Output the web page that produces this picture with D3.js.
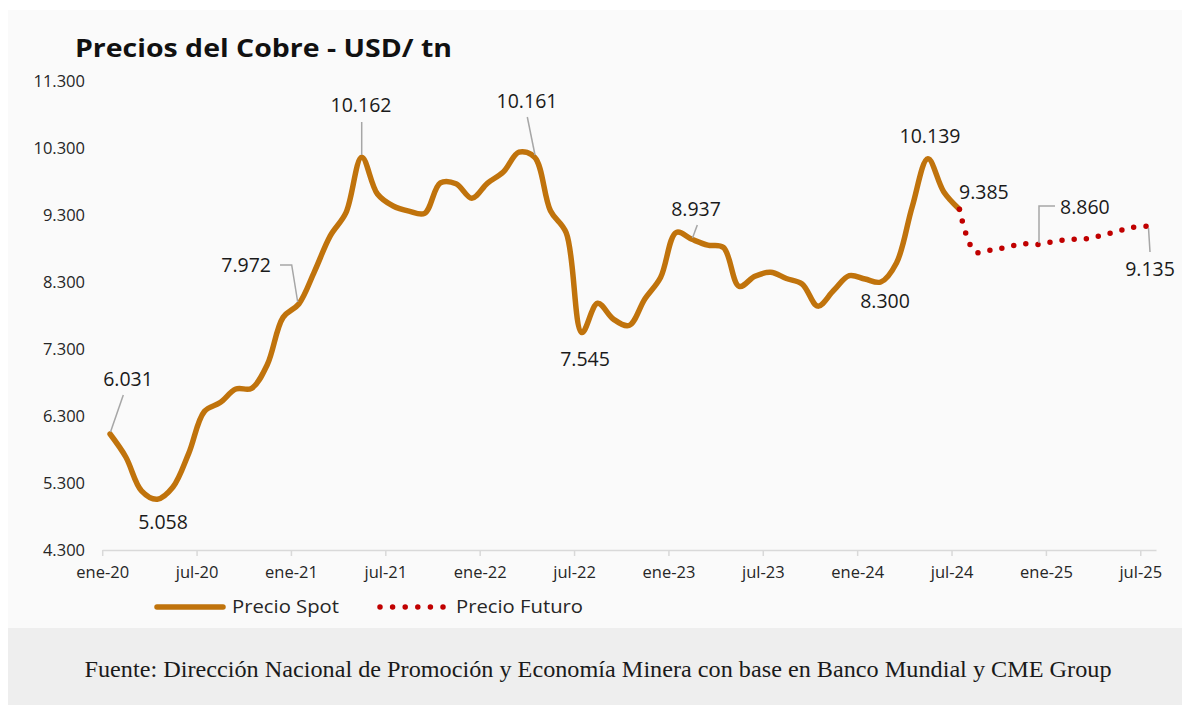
<!DOCTYPE html>
<html><head><meta charset="utf-8">
<script src="https://cdn.jsdelivr.net/npm/d3@7"></script>
<style>
html,body{margin:0;padding:0;background:#ffffff;}
svg{display:block;}
</style></head>
<body>
<svg id="chart" width="1182" height="705"></svg>
<script>
// ---- data ----
const title = "Precios del Cobre - USD/ tn";
const source = "Fuente: Dirección Nacional de Promoción y Economía Minera con base en Banco Mundial y CME Group";
const monthNames = ["ene","feb","mar","abr","may","jun","jul","ago","sep","oct","nov","dic"];
const years = ["20","21","22","23","24","25"];
const tickLabels = ["ene-20","jul-20","ene-21","jul-21","ene-22","jul-22","ene-23","jul-23","ene-24","jul-24","ene-25","jul-25"];
const yTicks = [4300,5300,6300,7300,8300,9300,10300,11300];
// Precio Spot, ene-20 .. jul-24 (USD/tn)
const spotValues = [
  6031,5688,5183,5058,5240,5743,6369,6500,6702,6713,7069,7772,
  7972,8460,8989,9335,10162,9613,9434,9358,9325,9778,9766,9550,
  9776,9941,10238,10161,9363,9034,7545,7982,7746,7651,8046,8367,
  9040,8937,8850,8815,8234,8386,8445,8352,8271,7940,8172,8394,
  8344,8300,8584,9424,10139,9648,9385
];
// Precio Futuro, jul-24 .. jul-25
const futureStart = 54;
const futureValues = [9385,8750,8775,8820,8870,8860,8905,8934,8942,8994,9054,9113,9135];
// annotated points (month index)
const labelIdx = [0,3,12,16,27,30,37,49,52,54,59,66];

// ---- build categories ----
const categories = [];
years.forEach(y => monthNames.forEach(m => categories.push(m + "-" + y)));
const nCat = 67; // ene-20 .. jul-25
const cats = categories.slice(0, nCat);

const spot = spotValues.map((v,i)=>({i, v}));
const fut = futureValues.map((v,k)=>({i: futureStart + k, v}));

const svg = d3.select("#chart");
const fontSans = "'Open Sans', 'Noto Sans', sans-serif";

// backgrounds
svg.append("rect").attr("x",8).attr("y",10).attr("width",1174).attr("height",618).attr("fill","#fafafa");
svg.append("rect").attr("x",8).attr("y",628).attr("width",1174).attr("height",77).attr("fill","#eeeeee");

const x = d3.scaleLinear().domain([0, nCat]).range([102.2, 1156]);
const y = d3.scaleLinear().domain([4300, 11300]).range([550, 81]);
const loc = d3.formatLocale({decimal:",", thousands:".", grouping:[3], currency:["",""]});
const fmt = loc.format(",d");

// y axis
const yAxis = svg.append("g").attr("transform","translate(89,0)")
  .call(d3.axisLeft(y).tickValues(yTicks).tickSize(0).tickPadding(4).tickFormat(fmt));
yAxis.select(".domain").remove();
yAxis.selectAll("text").attr("font-family",fontSans).attr("font-size",16.5).attr("fill","#262626");

// x axis
const xAxis = svg.append("g").attr("transform","translate(0,550)")
  .call(d3.axisBottom(x).tickValues(d3.range(0, nCat, 6)).tickSize(6).tickSizeOuter(0).tickPadding(10)
    .tickFormat((d,k)=>tickLabels[k]));
xAxis.select(".domain").attr("stroke","#d9d9d9").attr("stroke-width",1.5);
xAxis.selectAll(".tick line").attr("stroke","#d9d9d9").attr("stroke-width",1.5);
xAxis.selectAll("text").attr("font-family",fontSans).attr("font-size",16.5).attr("fill","#262626");

const cx = i => x(i + 0.5);

// lines
const line = d3.line().x(d=>cx(d.i)).y(d=>y(d.v)).curve(d3.curveCatmullRom.alpha(0.5));
svg.append("path").datum(spot).attr("d",line).attr("fill","none")
  .attr("stroke","#c0730c").attr("stroke-width",5.5).attr("stroke-linejoin","round").attr("stroke-linecap","round");
svg.append("path").datum(fut).attr("d",line).attr("fill","none")
  .attr("stroke","#c00000").attr("stroke-width",5.5).attr("stroke-dasharray","0 12.2").attr("stroke-linecap","round");

// leaders
const leaders = [
  [[123.3,395],[110.5,432]],
  [[280,265],[291.7,265],[297.7,302]],
  [[361.7,122],[361.7,155]],
  [[527.3,117],[535,155]],
  [[697.3,225],[692.5,238]],
  [[1055,206],[1039,206],[1039,243]],
  [[1148.5,228],[1150,252]]
];
const lg = d3.line();
leaders.forEach(p => svg.append("path").attr("d", lg(p)).attr("fill","none").attr("stroke","#a6a6a6").attr("stroke-width",1.5));

// data label placement
const labelPos = {
  0:[128,386,"middle"], 3:[163,529,"middle"], 12:[271,272,"end"], 16:[361,112,"middle"],
  27:[527,108,"middle"], 30:[585,366,"middle"], 37:[696,216,"middle"], 49:[885,308,"middle"],
  52:[930,143,"middle"], 54:[959,199,"start"], 59:[1060,214,"start"], 66:[1150,276,"middle"]
};
labelIdx.forEach(i => {
  const v = i <= 54 ? spotValues[i] : futureValues[i - futureStart];
  const p = labelPos[i];
  svg.append("text").attr("x",p[0]).attr("y",p[1]).attr("text-anchor",p[2])
    .attr("font-family",fontSans).attr("font-size",19.5).attr("fill","#1a1a1a").text(fmt(v));
});

// title
svg.append("text").attr("x",75).attr("y",57).attr("font-family",fontSans).attr("font-weight",700)
  .attr("font-size",25).attr("fill","#111").attr("textLength",377).attr("lengthAdjust","spacingAndGlyphs").text(title);

// legend
svg.append("line").attr("x1",157).attr("x2",223).attr("y1",607).attr("y2",607)
  .attr("stroke","#c0730c").attr("stroke-width",5.5).attr("stroke-linecap","round");
svg.append("text").attr("x",232).attr("y",613).attr("font-family",fontSans).attr("font-size",17.5).attr("fill","#262626")
  .attr("textLength",107).attr("lengthAdjust","spacingAndGlyphs").text("Precio Spot");
svg.append("line").attr("x1",380).attr("x2",445).attr("y1",607).attr("y2",607)
  .attr("stroke","#c00000").attr("stroke-width",5.5).attr("stroke-dasharray","0 12.6").attr("stroke-linecap","round");
svg.append("text").attr("x",456).attr("y",613).attr("font-family",fontSans).attr("font-size",17.5).attr("fill","#262626")
  .attr("textLength",127).attr("lengthAdjust","spacingAndGlyphs").text("Precio Futuro");

// source
svg.append("text").attr("x",598).attr("y",677).attr("text-anchor","middle")
  .attr("font-family","'Liberation Serif', 'DejaVu Serif', serif").attr("font-size",23).attr("fill","#1a1a1a")
  .attr("textLength",1027).attr("lengthAdjust","spacingAndGlyphs").text(source);
</script>
</body></html>
